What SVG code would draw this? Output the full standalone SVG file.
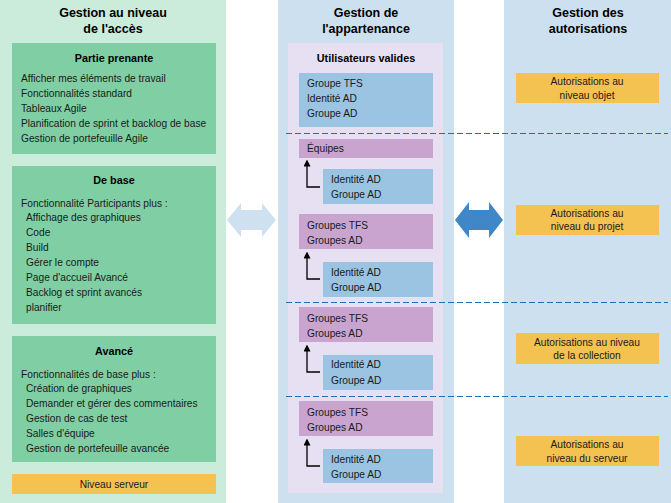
<svg xmlns="http://www.w3.org/2000/svg" width="671" height="503" viewBox="0 0 671 503">
<defs>
<marker id="ah" markerWidth="7" markerHeight="7" refX="3.5" refY="3.5" orient="auto" markerUnits="userSpaceOnUse">
<path d="M0,0 L7,3.5 L0,7 z" fill="#000"/>
</marker>
<style>
text{font-family:"Liberation Sans",Arial,sans-serif;font-size:10.2px;fill:#1a1a1a}
.t{font-weight:bold;font-size:12.5px;text-anchor:middle;fill:#000}
.h{font-weight:bold;font-size:10.8px;text-anchor:middle;fill:#000}
.c{text-anchor:middle}
.green{fill:#80cfa4}
.orange{fill:#f4c251}
.blue{fill:#9bc3e2}
.purple{fill:#c9a4cf}
.dash{stroke:#1f6db5;stroke-width:1;stroke-dasharray:6,3;fill:none}
.link{fill:none;stroke:#000;stroke-width:1.3}
</style>
</defs>
<rect x="0" y="0" width="226" height="503" fill="#cbebdb"/>
<rect x="278" y="0" width="176" height="503" fill="#cde0ef"/>
<rect x="504" y="0" width="167" height="503" fill="#cde0ef"/>
<rect x="288" y="43" width="155" height="450" fill="#e6e0f2"/>

<g id="titles">
<text class="t" x="113" y="17">Gestion au niveau</text>
<text class="t" x="113" y="33">de l'accès</text>
<text class="t" x="366" y="17">Gestion de</text>
<text class="t" x="366" y="33">l'appartenance</text>
<text class="t" x="588" y="17">Gestion des</text>
<text class="t" x="588" y="33">autorisations</text>
</g>

<g id="partie-prenante">
<rect class="green" x="12" y="43" width="204" height="111"/>
<text class="h" x="114" y="62">Partie prenante</text>
<text x="21" y="82">Afficher mes éléments de travail</text>
<text x="21" y="97">Fonctionnalités standard</text>
<text x="21" y="112">Tableaux Agile</text>
<text x="21" y="127">Planification de sprint et backlog de base</text>
<text x="21" y="142">Gestion de portefeuille Agile</text>
</g>

<g id="de-base">
<rect class="green" x="12" y="166" width="204" height="158"/>
<text class="h" x="114" y="184">De base</text>
<text x="21" y="207">Fonctionnalité Participants plus :</text>
<text x="26" y="221">Affichage des graphiques</text>
<text x="26" y="236">Code</text>
<text x="26" y="251">Build</text>
<text x="26" y="266">Gérer le compte</text>
<text x="26" y="281">Page d'accueil Avancé</text>
<text x="26" y="296">Backlog et sprint avancés</text>
<text x="26" y="311">planifier</text>
</g>

<g id="avance">
<rect class="green" x="12" y="336" width="204" height="126"/>
<text class="h" x="114" y="355">Avancé</text>
<text x="21" y="378">Fonctionnalités de base plus :</text>
<text x="26" y="392">Création de graphiques</text>
<text x="26" y="407">Demander et gérer des commentaires</text>
<text x="26" y="422">Gestion de cas de test</text>
<text x="26" y="437">Salles d'équipe</text>
<text x="26" y="452">Gestion de portefeuille avancée</text>
</g>

<g id="niveau-serveur">
<rect class="orange" x="12" y="474" width="204" height="20"/>
<text class="c" x="114" y="488">Niveau serveur</text>
</g>

<g id="utilisateurs-valides">
<text class="h" x="366" y="62">Utilisateurs valides</text>
<rect class="blue" x="299" y="73" width="134" height="54"/>
<text x="307" y="87">Groupe TFS</text>
<text x="307" y="102">Identité AD</text>
<text x="307" y="117">Groupe AD</text>
</g>

<g id="equipes">
<rect class="purple" x="299" y="139" width="134" height="19"/>
<text x="307" y="152">Équipes</text>
</g>
<g id="ad-1">
<rect class="blue" x="323" y="169" width="110" height="35"/>
<text x="331" y="183">Identité AD</text>
<text x="331" y="198">Groupe AD</text>
</g>

<g id="groupes-projet">
<rect class="purple" x="299" y="214" width="134" height="35"/>
<text x="307" y="229">Groupes TFS</text>
<text x="307" y="244">Groupes AD</text>
</g>
<g id="ad-2">
<rect class="blue" x="323" y="262" width="110" height="35"/>
<text x="331" y="276">Identité AD</text>
<text x="331" y="291">Groupe AD</text>
</g>

<g id="groupes-collection">
<rect class="purple" x="299" y="307" width="134" height="35"/>
<text x="307" y="322">Groupes TFS</text>
<text x="307" y="337">Groupes AD</text>
</g>
<g id="ad-3">
<rect class="blue" x="323" y="355" width="110" height="35"/>
<text x="331" y="368">Identité AD</text>
<text x="331" y="384">Groupe AD</text>
</g>

<g id="groupes-serveur">
<rect class="purple" x="299" y="401" width="134" height="35"/>
<text x="307" y="416">Groupes TFS</text>
<text x="307" y="431">Groupes AD</text>
</g>
<g id="ad-4">
<rect class="blue" x="323" y="449" width="110" height="34"/>
<text x="331" y="463">Identité AD</text>
<text x="331" y="478">Groupe AD</text>
</g>

<g id="autorisations-objet">
<rect class="orange" x="516" y="73" width="143" height="30"/>
<text class="c" x="587" y="85">Autorisations au</text>
<text class="c" x="587" y="99">niveau objet</text>
</g>
<g id="autorisations-projet">
<rect class="orange" x="516" y="205" width="143" height="30"/>
<text class="c" x="587" y="217">Autorisations au</text>
<text class="c" x="587" y="230">niveau du projet</text>
</g>
<g id="autorisations-collection">
<rect class="orange" x="516" y="333" width="143" height="31"/>
<text class="c" x="587" y="346">Autorisations au niveau</text>
<text class="c" x="587" y="359">de la collection</text>
</g>
<g id="autorisations-serveur">
<rect class="orange" x="516" y="436" width="143" height="30"/>
<text class="c" x="587" y="448">Autorisations au</text>
<text class="c" x="587" y="462">niveau du serveur</text>
</g>

<g id="connectors">
<path class="dash" d="M286,133.5 H668"/>
<path class="dash" d="M286,302.5 H668"/>
<path class="dash" d="M286,396.5 H668"/>
<path class="link" d="M320,187 H307 V163" marker-end="url(#ah)"/>
<path class="link" d="M320,279 H307 V255" marker-end="url(#ah)"/>
<path class="link" d="M320,372 H307 V348" marker-end="url(#ah)"/>
<path class="link" d="M320,466 H307 V442" marker-end="url(#ah)"/>
<path d="M227,220 L241,203 V210 H262 V203 L276,220 L262,237 V230 H241 V237 Z" fill="#cfe1f0"/>
<path d="M455,220 L469,202 V210 H489 V202 L503,220 L489,238 V230 H469 V238 Z" fill="#3f87c7"/>
</g>
</svg>
